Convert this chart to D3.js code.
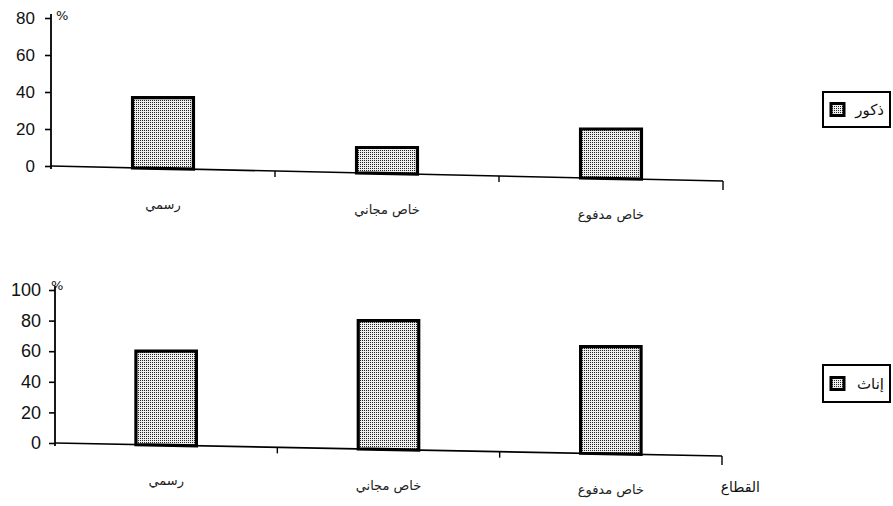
<!DOCTYPE html>
<html>
<head>
<meta charset="utf-8">
<script src="https://cdn.jsdelivr.net/npm/d3@7"></script>
<style>
  html, body { margin: 0; padding: 0; background: #fff; }
  svg { display: block; }
  .tick text { font-family: "Liberation Sans", Arial, sans-serif; }
</style>
</head>
<body>
<svg id="chart" width="893" height="506"></svg>
<script>
// ---- data ----
const categories = ["رسمي", "خاص مجاني", "خاص مدفوع"];
const maleValues = [37, 10, 20];
const femaleValues = [60, 80, 63];
const maleTicks = [0, 20, 40, 60, 80];
const femaleTicks = [0, 20, 40, 60, 80, 100];
const legendLabels = ["ذكور", "إناث"];
const xAxisTitle = "القطاع";
const unitLabel = "%";

const svg = d3.select("#chart");
const defs = svg.append("defs");
const pat = defs.append("pattern")
  .attr("id", "dots").attr("patternUnits", "userSpaceOnUse")
  .attr("width", 2).attr("height", 2);
pat.append("rect").attr("width", 2).attr("height", 2).attr("fill", "#eeeeee");
pat.append("rect").attr("x", 0).attr("y", 0).attr("width", 1).attr("height", 1).attr("fill", "#222");

const arabicFont = "'DejaVu Sans', 'Noto Sans', sans-serif";

const panels = [
  { values: maleValues, ticks: maleTicks, max: 80, axisX: 51, xEnd: 723, yZero: 166, yTop: 18,
    slope: 15 / 672, labelSize: 17, tickRight: 35, legend: legendLabels[0], legendY: 92, legendH: 35,
    unitX: 56, unitY: 20 },
  { values: femaleValues, ticks: femaleTicks, max: 100, axisX: 55, xEnd: 722, yZero: 443, yTop: 290,
    slope: 13 / 667, labelSize: 18, tickRight: 41, legend: legendLabels[1], legendY: 365, legendH: 37,
    unitX: 51, unitY: 290 }
];

panels.forEach((p, pi) => {
  const g = svg.append("g");
  const y = d3.scaleLinear().domain([0, p.max]).range([p.yZero, p.yTop]);
  const x = d3.scaleBand().domain(categories).range([p.axisX, p.xEnd]).padding(0);
  const baseY = px => p.yZero + p.slope * (px - p.axisX);

  // y axis
  const yAxis = d3.axisLeft(y).tickValues(p.ticks).tickSize(6).tickSizeOuter(0).tickPadding(10);
  const ya = g.append("g").attr("transform", `translate(${p.axisX},0)`).call(yAxis);
  ya.select(".domain").remove();
  ya.selectAll(".tick line").attr("stroke", "#000").attr("stroke-width", 1.6);
  ya.selectAll(".tick text")
    .attr("font-size", p.labelSize).attr("fill", "#111")
    .attr("x", p.tickRight - p.axisX);
  g.append("line")
    .attr("x1", p.axisX).attr("x2", p.axisX)
    .attr("y1", y(p.max) - 4).attr("y2", p.yZero + 3)
    .attr("stroke", "#000").attr("stroke-width", 1.8);

  // unit sign
  g.append("text").attr("x", p.unitX).attr("y", p.unitY)
    .attr("font-family", arabicFont).attr("font-size", 13).attr("fill", "#111")
    .text(unitLabel);

  // slanted x axis baseline
  g.append("line")
    .attr("x1", p.axisX).attr("y1", baseY(p.axisX))
    .attr("x2", p.xEnd).attr("y2", baseY(p.xEnd))
    .attr("stroke", "#000").attr("stroke-width", 1.6);

  // category boundary ticks
  const boundaries = categories.slice(1).map(c => x(c)).concat([p.xEnd]);
  g.selectAll(".btick").data(boundaries).enter().append("line")
    .attr("x1", d => d).attr("x2", d => d)
    .attr("y1", d => baseY(d))
    .attr("y2", (d, i) => baseY(d) + (i === boundaries.length - 1 ? 9 : 6))
    .attr("stroke", "#000").attr("stroke-width", 1.4);

  // bars
  const bw = x.bandwidth() * 0.272;
  g.selectAll(".bar").data(p.values).enter().append("path")
    .attr("d", (v, i) => {
      const cx = x(categories[i]) + x.bandwidth() / 2;
      const x0 = cx - bw / 2, x1 = cx + bw / 2;
      const top = y(v);
      return `M${x0},${top}L${x1},${top}L${x1},${baseY(x1)}L${x0},${baseY(x0)}Z`;
    })
    .attr("fill", "url(#dots)")
    .attr("stroke", "#000").attr("stroke-width", 3.2).attr("stroke-linejoin", "miter");

  // category labels
  g.selectAll(".cat").data(categories).enter().append("text")
    .attr("x", d => x(d) + x.bandwidth() / 2)
    .attr("y", d => baseY(x(d) + x.bandwidth() / 2) + 40)
    .attr("text-anchor", "middle")
    .attr("font-family", arabicFont).attr("font-size", 13).attr("fill", "#222")
    .text(d => d);

  // legend
  const lg = g.append("g");
  lg.append("rect").attr("x", 823).attr("y", p.legendY).attr("width", 67).attr("height", p.legendH)
    .attr("fill", "#fff").attr("stroke", "#000").attr("stroke-width", 2);
  lg.append("rect").attr("x", 831).attr("y", p.legendY + p.legendH / 2 - 6).attr("width", 13).attr("height", 12)
    .attr("fill", "url(#dots)").attr("stroke", "#000").attr("stroke-width", 3);
  lg.append("text").attr("x", 884).attr("y", p.legendY + p.legendH / 2 + 5)
    .attr("text-anchor", "end")
    .attr("font-family", arabicFont).attr("font-size", 15).attr("fill", "#111")
    .text(p.legend);

  if (pi === 1) {
    g.append("text").attr("x", 760).attr("y", baseY(740) + 36)
      .attr("text-anchor", "end")
      .attr("font-family", arabicFont).attr("font-size", 14).attr("fill", "#111")
      .text(xAxisTitle);
  }
});
</script>
</body>
</html>
